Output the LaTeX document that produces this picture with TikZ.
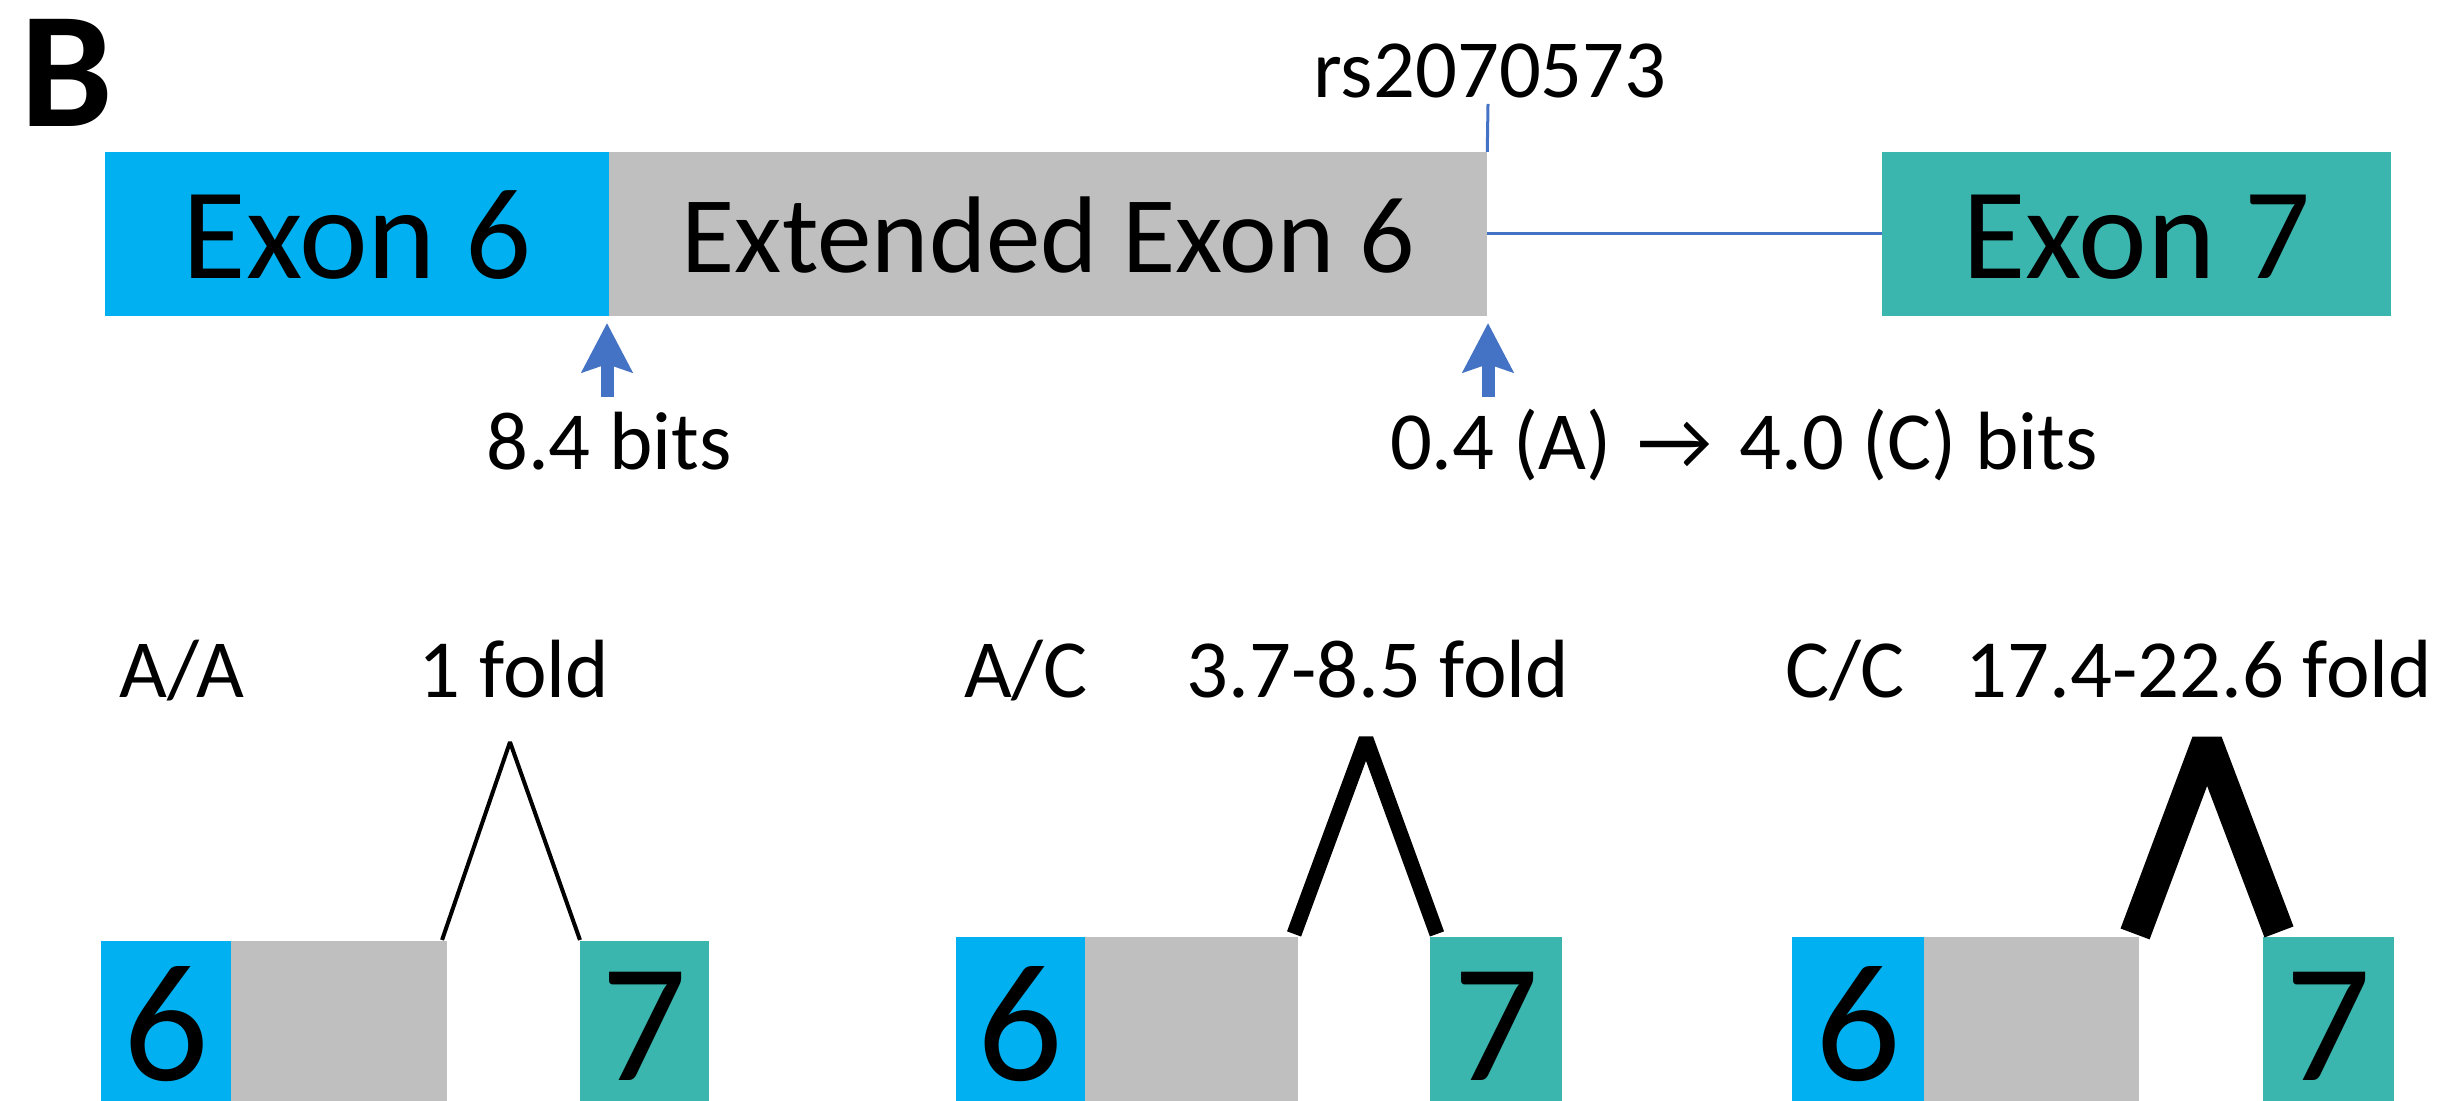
\documentclass[tikz,border=0pt]{standalone}
\usepackage{fontspec}
\setmainfont{Carlito}
\usetikzlibrary{arrows.meta}
\definecolor{exsix}{HTML}{00B0F0}
\definecolor{exgray}{HTML}{BFBFBF}
\definecolor{exteal}{HTML}{3AB6AF}
\definecolor{arblue}{HTML}{4472C4}
\begin{document}
\begin{tikzpicture}[x=0.01cm,y=-0.01cm,
  box/.style={inner sep=0pt, outer sep=0pt, minimum height=1.64cm, text depth=0pt},
  bigtxt/.style={font=\fontsize{37}{44}\selectfont},
  exttxt/.style={font=\fontsize{31}{37}\selectfont},
  lbl/.style={inner sep=0pt, outer sep=0pt, font=\fontsize{23.5}{28}\selectfont},
  sbox/.style={inner sep=0pt, outer sep=0pt, minimum height=1.60cm},
  digit/.style={inner sep=0pt, outer sep=0pt, anchor=base, font=\fontsize{48}{56}\selectfont},
  thinblue/.style={draw=arblue, line width=0.03cm},
  uparr/.style={draw=arblue, fill=arblue, line width=0.13cm, -{Stealth[length=0.49cm, width=0.50cm, inset=0.08cm]}},
  vline/.style={draw=black, line join=bevel, line cap=butt}
]
\useasboundingbox (0,0) rectangle (2446,1101);

% panel letter
\node[inner sep=0pt, anchor=base west, font=\fontsize{47}{54}\selectfont\bfseries] (pan) at (20,127) {B};

% top gene model
\node[box, fill=exsix, minimum width=5.04cm, text height=0.88cm, bigtxt] (ex6) at (357,234) {Exon 6};
\node[box, fill=exgray, minimum width=8.78cm, text height=0.76cm, exttxt] (ext) at (1048,234) {Extended Exon 6};
\node[box, fill=exteal, minimum width=5.09cm, text height=0.88cm, bigtxt] (ex7) at (2136.5,234) {Exon 7};

\coordinate (snp) at (1488,104);
\node[lbl, anchor=base] (rs) at (1490,98) {rs2070573};
\draw[thinblue] (ext.north east) -- (snp);
\draw[thinblue] (ext.east) -- (ex7.west);

% splice site arrows
\coordinate (a1) at (607,397);
\coordinate (a2) at (1488,397);
\draw[uparr, shorten >=0.07cm] (a1) -- (a1 |- ex6.south);
\draw[uparr, shorten >=0.07cm] (a2) -- (a2 |- ext.south);
\node[lbl, anchor=base] (bits1) at (609,470) {8.4 bits};
\node[lbl, anchor=base west] (bits2) at (1390,470) {0.4 (A)\hspace{0.08cm} → \hspace{0.08cm}4.0 (C) bits};

% genotype labels
\node[lbl, anchor=base] (g1) at (182,698) {A/A};
\node[lbl, anchor=base] (f1) at (514,698) {1 fold};
\node[lbl, anchor=base] (g2) at (1026,698) {A/C};
\node[lbl, anchor=base] (f2) at (1378,698) {3.7-8.5 fold};
\node[lbl, anchor=base] (g3) at (1845,698) {C/C};
\node[lbl, anchor=base] (f3) at (2199,698) {17.4-22.6 fold};

\coordinate (dbase) at (0,1080);

% panel 1 (A/A)
\node[sbox, fill=exsix, minimum width=1.30cm] (p1a) at (166,1021) {};
\node[sbox, fill=exgray, minimum width=2.16cm] (p1b) at (339,1021) {};
\node[sbox, fill=exteal, minimum width=1.29cm] (p1c) at (644.5,1021) {};
\node[digit] (p1a6) at (p1a |- dbase) {6};
\node[digit] (p1c7) at (p1c |- dbase) {7};
\coordinate (p1t) at (510,742);
\draw[vline, line width=0.04cm] ([shift={(-0.05cm,0.01cm)}]p1b.north east) -- (p1t) -- ([shift={(0cm,0.01cm)}]p1c.north west);

% panel 2 (A/C)
\node[sbox, fill=exsix, minimum width=1.29cm, minimum height=1.64cm] (p2a) at (1020.5,1019) {};
\node[sbox, fill=exgray, minimum width=2.13cm, minimum height=1.64cm] (p2b) at (1191.5,1019) {};
\node[sbox, fill=exteal, minimum width=1.32cm, minimum height=1.64cm] (p2c) at (1496,1019) {};
\node[digit] (p2a6) at (p2a |- dbase) {6};
\node[digit] (p2c7) at (p2c |- dbase) {7};
\coordinate (p2t) at (1366,739);
\draw[vline, line width=0.15cm] ([shift={(-0.04cm,0.03cm)}]p2b.north east) -- (p2t) -- ([shift={(0.07cm,0.03cm)}]p2c.north west);

% panel 3 (C/C)
\node[sbox, fill=exsix, minimum width=1.32cm, minimum height=1.64cm] (p3a) at (1858,1019) {};
\node[sbox, fill=exgray, minimum width=2.15cm, minimum height=1.64cm] (p3b) at (2031.5,1019) {};
\node[sbox, fill=exteal, minimum width=1.31cm, minimum height=1.64cm] (p3c) at (2328.5,1019) {};
\node[digit] (p3a6) at (p3a |- dbase) {6};
\node[digit] (p3c7) at (p3c |- dbase) {7};
\coordinate (p3t) at (2207,742);
\draw[vline, line width=0.31cm] ([shift={(-0.04cm,0.03cm)}]p3b.north east) -- (p3t) -- ([shift={(0.16cm,0.05cm)}]p3c.north west);
\end{tikzpicture}
\end{document}
